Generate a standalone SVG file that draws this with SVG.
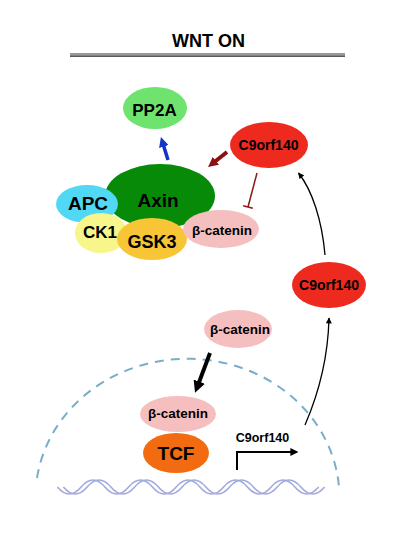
<svg xmlns="http://www.w3.org/2000/svg" width="404" height="550" viewBox="0 0 404 550">
<style>
text{font-family:"Liberation Sans",Arial,sans-serif;font-weight:bold;text-anchor:middle;fill:#000}
.t13{font-size:13.5px}
.t14{font-size:14px}
.big{font-size:18px}
.pink{fill:#f6bfbf}
.red{fill:#ee2a1f}
.thin{fill:none;stroke:#000;stroke-width:1.3}
.dna{fill:none;stroke:#a3a9dd;stroke-width:1.6}
</style>
<defs>
<marker id="hBlue" viewBox="0 0 10 10" refX="3" refY="5" markerWidth="10" markerHeight="10" markerUnits="userSpaceOnUse" orient="auto"><path d="M0,0 L10,5 L0,10 z" fill="#1434c8"/></marker>
<marker id="hRed" viewBox="0 0 10 10" refX="3" refY="5" markerWidth="10" markerHeight="10" markerUnits="userSpaceOnUse" orient="auto"><path d="M0,0 L10,5 L0,10 z" fill="#8b1212"/></marker>
<marker id="hBig" viewBox="0 0 10 10" refX="3" refY="5" markerWidth="12" markerHeight="12" markerUnits="userSpaceOnUse" orient="auto"><path d="M0,0 L10,5 L0,10 z" fill="#000"/></marker>
<marker id="hSmall" viewBox="0 0 10 10" refX="9" refY="5" markerWidth="7" markerHeight="6" markerUnits="userSpaceOnUse" orient="auto"><path d="M0,0 L10,5 L0,10 z" fill="#000"/></marker>
<marker id="hProm" viewBox="0 0 10 10" refX="7" refY="5" markerWidth="8" markerHeight="8" markerUnits="userSpaceOnUse" orient="auto"><path d="M0,0 L10,5 L0,10 z" fill="#000"/></marker>
</defs>

<g id="title">
<text x="208.5" y="47" style="font-size:18px">WNT ON</text>
<rect x="70" y="53" width="275" height="3" fill="#999"/>
<line x1="70" y1="56.3" x2="345" y2="56.3" stroke="#333" stroke-width="1"/>
</g>

<g id="nucleus">
<path d="M 37 478 A 152 139 0 0 1 339 487" fill="none" stroke="#7aaec8" stroke-width="2" stroke-dasharray="9 7"/>
</g>

<g id="dna">
<path class="dna" d="M57.4 487 Q69.3 501 81.15 487 T104.9 487 T128.65 487 T152.4 487 T176.15 487 T199.9 487 T223.65 487 T247.4 487 T271.15 487 T294.9 487 T318.65 487"/>
<path class="dna" d="M63.4 487 Q75.3 501 87.15 487 T110.9 487 T134.65 487 T158.4 487 T182.15 487 T205.9 487 T229.65 487 T253.4 487 T277.15 487 T300.9 487 T324.65 487"/>
</g>

<g id="pp2a">
<ellipse cx="155" cy="108" rx="32" ry="21" fill="#6ee36e"/>
<text x="154.5" y="116" style="font-size:17px">PP2A</text>
</g>

<g id="axin">
<ellipse cx="160" cy="196" rx="55" ry="32" fill="#078a07"/>
<text x="158" y="207" style="font-size:19px">Axin</text>
</g>

<g id="apc">
<ellipse cx="87" cy="204" rx="31" ry="19" fill="#50d8f5"/>
<text x="88" y="210" style="font-size:19px">APC</text>
</g>

<g id="ck1">
<ellipse cx="101" cy="233" rx="26" ry="20" fill="#f8f58a"/>
<text x="100" y="238" style="font-size:17px">CK1</text>
</g>

<g id="gsk3">
<ellipse cx="152" cy="239" rx="35" ry="21" fill="#f7c536"/>
<text x="152" y="248" class="big">GSK3</text>
</g>

<g id="bcat1">
<ellipse class="pink" cx="221" cy="229" rx="38" ry="19"/>
<text class="t13" x="222" y="235">β-catenin</text>
</g>

<g id="c9orf140a">
<ellipse class="red" cx="269" cy="145" rx="39" ry="23"/>
<text class="t14" x="268.5" y="150">C9orf140</text>
</g>

<g id="c9orf140b">
<ellipse class="red" cx="329" cy="285" rx="37" ry="23"/>
<text class="t14" x="329" y="290">C9orf140</text>
</g>

<g id="bcat2">
<ellipse class="pink" cx="238" cy="329" rx="34" ry="19"/>
<text class="t13" x="240" y="334">β-catenin</text>
</g>

<g id="bcat3">
<ellipse class="pink" cx="178" cy="414" rx="38" ry="18"/>
<text class="t13" x="178" y="418">β-catenin</text>
</g>

<g id="tcf">
<ellipse cx="176" cy="453" rx="33" ry="20" fill="#f26b10"/>
<text x="176" y="460" style="font-size:19px">TCF</text>
</g>

<g id="promoter">
<text x="262.5" y="442" style="font-size:12.5px">C9orf140</text>
</g>

<g id="connectors">
<line x1="168" y1="160" x2="163" y2="143.7" stroke="#1434c8" stroke-width="3.5" marker-end="url(#hBlue)"/>
<line x1="227" y1="152" x2="213.5" y2="162.7" stroke="#8b1212" stroke-width="4" marker-end="url(#hRed)"/>
<line x1="257" y1="173" x2="248" y2="207" stroke="#8b1a1a" stroke-width="1.5"/>
<line x1="243.2" y1="205.7" x2="252.8" y2="208.3" stroke="#8b1a1a" stroke-width="1.5"/>
<path class="thin" d="M325 255 C322 220 312 190 298.5 173" marker-end="url(#hSmall)"/>
<path class="thin" d="M305 425 C318 395 328 360 329 318" marker-end="url(#hSmall)"/>
<line x1="210" y1="353" x2="198" y2="385" stroke="#000" stroke-width="4" marker-end="url(#hBig)"/>
<path d="M237 470 V452 H296" fill="none" stroke="#000" stroke-width="2" marker-end="url(#hProm)"/>
</g>
</svg>
